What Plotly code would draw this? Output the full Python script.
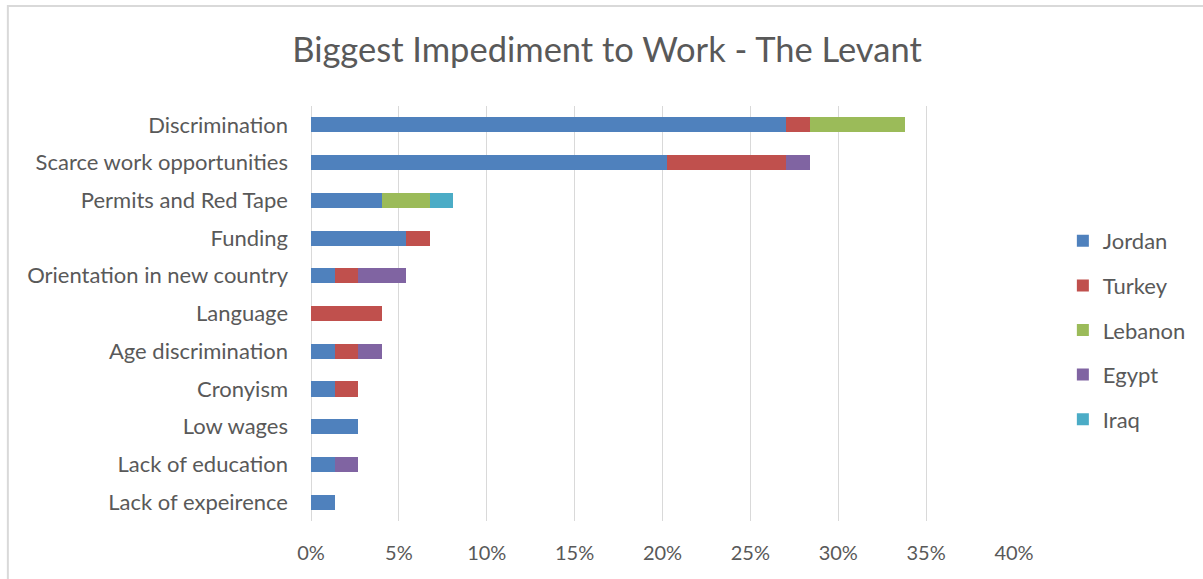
import plotly.graph_objects as go

# Impediment categories, top to bottom
categories = [
    "Discrimination",
    "Scarce work opportunities",
    "Permits and Red Tape",
    "Funding",
    "Orientation in new country",
    "Language",
    "Age discrimination",
    "Cronyism",
    "Low wages",
    "Lack of education",
    "Lack of expeirence",
]

# Share of respondents (%) per country, aligned with categories
jordan = [27.03, 20.27, 4.05, 5.41, 1.35, None, 1.35, 1.35, 2.70, 1.35, 1.35]
turkey = [1.35, 6.76, None, 1.35, 1.35, 4.05, 1.35, 1.35, None, None, None]
lebanon = [5.41, None, 2.70, None, None, None, None, None, None, None, None]
egypt = [None, 1.35, None, None, 2.70, None, 1.35, None, None, 1.35, None]
iraq = [None, None, 1.35, None, None, None, None, None, None, None, None]

series_names = ["Jordan", "Turkey", "Lebanon", "Egypt", "Iraq"]
series_values = [jordan, turkey, lebanon, egypt, iraq]
series_colors = ["#4F81BD", "#C0504D", "#9BBB59", "#8064A2", "#4BACC6"]

tick_values = [0, 5, 10, 15, 20, 25, 30, 35, 40]
tick_labels = ["0%", "5%", "10%", "15%", "20%", "25%", "30%", "35%", "40%"]

FONT = "Lato"
TEXT_COLOR = "#595959"

fig = go.Figure()
for name, vals, color in zip(series_names, series_values, series_colors):
    fig.add_trace(
        go.Bar(
            name=name,
            y=categories,
            x=vals,
            orientation="h",
            marker=dict(color=color, line=dict(width=0)),
            legendgroup=name,
        )
    )

W, H = 1203, 579
ml, mr, mt, mb = 311, 187, 106, 58
pw, ph = W - ml - mr, H - mt - mb

fig.update_layout(
    width=W,
    height=H,
    barmode="stack",
    bargap=0.6,
    plot_bgcolor="white",
    paper_bgcolor="white",
    margin=dict(l=ml, r=mr, t=mt, b=mb, pad=0),
    font=dict(family=FONT, color=TEXT_COLOR, size=22),
    title=dict(
        text="Biggest Impediment to Work - The Levant",
        font=dict(family=FONT, size=34.5, color=TEXT_COLOR),
        x=607 / W,
        xanchor="center",
        y=1 - 50 / H,
        yanchor="middle",
    ),
    xaxis=dict(
        range=[0, 40],
        tickvals=tick_values,
        ticktext=tick_labels,
        showgrid=True,
        gridcolor="#D9D9D9",
        gridwidth=1,
        zeroline=True,
        zerolinecolor="#D9D9D9",
        zerolinewidth=1,
        showline=False,
        ticks="",
        ticklabelstandoff=18,
        tickfont=dict(size=20, color=TEXT_COLOR),
        fixedrange=True,
    ),
    yaxis=dict(
        categoryorder="array",
        categoryarray=categories,
        autorange="reversed",
        showgrid=False,
        showline=False,
        ticks="",
        ticklabelstandoff=22,
        tickfont=dict(size=22, color=TEXT_COLOR),
        fixedrange=True,
    ),
    legend=dict(
        x=1 + (1065 - ml - pw) / pw,
        xanchor="left",
        y=(H - mb - 330) / ph,
        yanchor="middle",
        traceorder="grouped",
        tracegroupgap=13,
        font=dict(size=22, color=TEXT_COLOR),
        bgcolor="rgba(0,0,0,0)",
        itemwidth=30,
    ),
    shapes=[
        dict(
            type="rect",
            xref="paper",
            yref="paper",
            x0=(7 - ml) / pw,
            x1=(W + 10 - ml) / pw,
            y0=-(mb + 10) / ph,
            y1=1 + (mt - 6) / ph,
            line=dict(color="#D9D9D9", width=2),
            fillcolor="rgba(0,0,0,0)",
            layer="below",
        )
    ],
)

fig.write_html("out.html")
